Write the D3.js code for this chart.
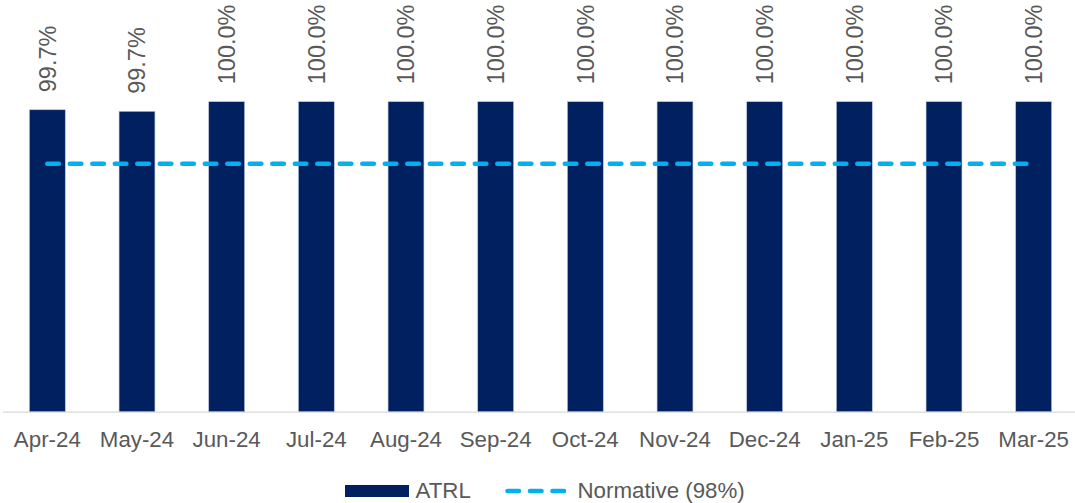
<!DOCTYPE html>
<html><head><meta charset="utf-8">
<script src="https://cdn.jsdelivr.net/npm/d3@7"></script>
<style>body{margin:0;background:#fff}svg{display:block;font-family:Arial,"Liberation Sans",sans-serif}</style>
</head><body><svg id="c" width="1075" height="503"></svg>
<script>
const categories = ["Apr-24","May-24","Jun-24","Jul-24","Aug-24","Sep-24","Oct-24","Nov-24","Dec-24","Jan-25","Feb-25","Mar-25"];
const atrl = [99.74,99.69,100,100,100,100,100,100,100,100,100,100];
const normative = [98,98,98,98,98,98,98,98,98,98,98,98];
const seriesNames = ["ATRL","Normative (98%)"];

const svg = d3.select("#c");
const x = d3.scaleBand().domain(categories).range([2.5,1078.5]).paddingInner(0.6).paddingOuter(0.3);
const y = d3.scaleLinear().domain([90,100]).range([411.7,101.7]);
const bandC = d => x(d) + x.bandwidth()/2;

// axis line
svg.append("line").attr("x1",3).attr("x2",1075).attr("y1",y(90)+0.5).attr("y2",y(90)+0.5)
  .attr("stroke","#d9d9d9").attr("stroke-width",1.3);

svg.selectAll("rect.bar").data(categories).join("rect").attr("class","bar")
  .attr("x",d=>x(d)).attr("width",x.bandwidth())
  .attr("y",(d,i)=>y(atrl[i])).attr("height",(d,i)=>y(90)-y(atrl[i]))
  .attr("fill","#002060").attr("stroke","#b8c2dc").attr("stroke-width",0.6);

// normative line
const line = d3.line().x((d,i)=>bandC(categories[i])).y(d=>y(d));
svg.append("path").datum(normative).attr("d",line).attr("fill","none")
  .attr("stroke","#00B0F0").attr("stroke-width",4.6).attr("stroke-linecap","round")
  .attr("stroke-dasharray","11.5,11");

// data labels
svg.selectAll("text.lbl").data(categories).join("text").attr("class","lbl")
  .attr("transform",(d,i)=>`translate(${bandC(d)},${y(atrl[i])-17.5}) rotate(-90)`)
  .attr("dy","0.35em").attr("text-anchor","start")
  .attr("font-size",23.5).attr("fill","#595959")
  .text((d,i)=>atrl[i].toFixed(1)+"%");

// x axis labels
svg.selectAll("text.xl").data(categories).join("text").attr("class","xl")
  .attr("x",d=>bandC(d)).attr("y",446.5).attr("text-anchor","middle")
  .attr("font-size",22.3).attr("fill","#595959").text(d=>d);

// legend
const lg = svg.append("g");
lg.append("rect").attr("x",345).attr("y",485).attr("width",64).attr("height",12).attr("fill","#002060");
lg.append("text").attr("x",415.5).attr("y",497.5).attr("font-size",22.3).attr("fill","#595959").text(seriesNames[0]);
lg.append("line").attr("x1",507.5).attr("x2",564.5).attr("y1",491).attr("y2",491)
  .attr("stroke","#00B0F0").attr("stroke-width",4.6).attr("stroke-linecap","round").attr("stroke-dasharray","11.5,11");
lg.append("text").attr("x",577.5).attr("y",497.5).attr("font-size",22.3).attr("fill","#595959").text(seriesNames[1]);
</script></body></html>
